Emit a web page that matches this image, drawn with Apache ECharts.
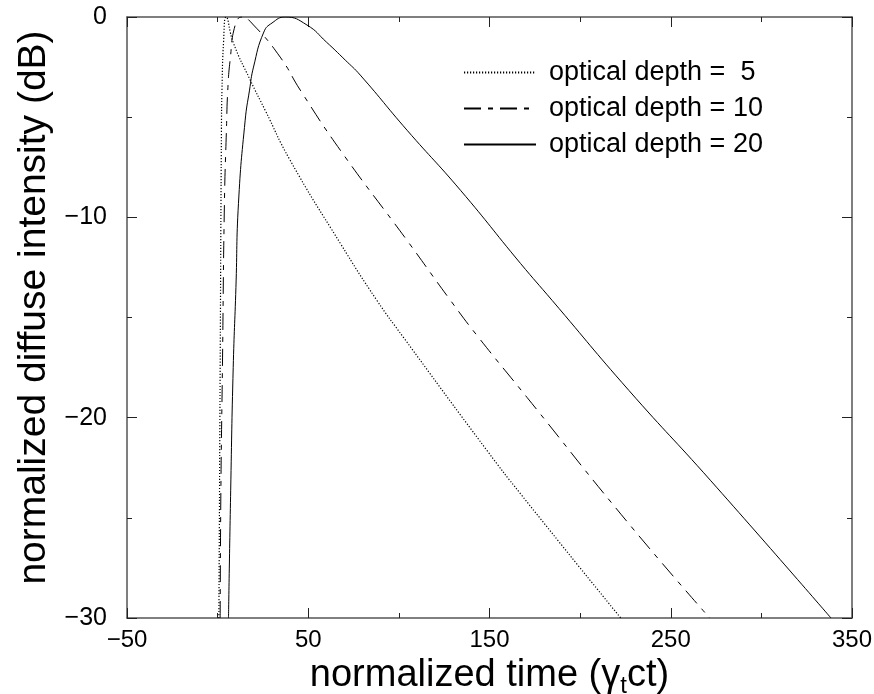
<!DOCTYPE html>
<html lang="en">
<head>
    <meta charset="UTF-8">
    <script src="https://cdn.jsdelivr.net/npm/echarts@6/dist/echarts.min.js"></script>
    <style>
        html, body { margin: 0; padding: 0; background: #fff; }
    </style>
</head>
<body>
    <div id="main" style="width: 874px; height: 694px;"></div>

    <script>
        // normalized time vs intensity (dB)
        var t5  = [0.7, 1.4, 2.1, 2.4, 3.3, 4.7, 8.7, 18, 26.2, 40, 67.7, 87.9, 102.6, 148.7, 167.1, 222.4];
        var db5 = [-30, -17.5, -5.65, -3.65, -1.2, 0, -1.3, -3.15, -4.65, -7.15, -11.3, -14.15, -16, -21.65, -23.8, -30];

        var t10  = [1.4, 1.8, 2.65, 3.75, 4.9, 5.6, 6.9, 9.7, 13.4, 19.8, 34.5, 45.6, 67.7, 104.5, 128.5, 144, 170.8, 226, 271.5];
        var db10 = [-30, -23.6, -17.5, -9.3, -5.5, -3.65, -2.15, -0.4, 0, -0.4, -2.0, -3.65, -6.65, -11.15, -14.15, -16, -19, -25.2, -30];

        var t20  = [6.0, 7.2, 8.6, 10.1, 11.5, 15.2, 17.6, 19.8, 25.5, 30, 37.3, 49.3, 60, 70.4, 78.7, 104.5, 134, 167.1, 184.6, 227, 272.1, 338.4];
        var db20 = [-30, -23.65, -17.5, -13.5, -9.3, -5.15, -3.65, -2.5, -0.75, -0.3, 0, -0.4, -1.25, -2.15, -2.9, -5.65, -8.65, -12.3, -14.15, -18.65, -23.15, -30];

        var names = ['optical depth =  5', 'optical depth = 10', 'optical depth = 20'];

        function pairs(xs, ys) {
            return xs.map(function (x, i) { return [x, ys[i]]; });
        }

        var frame = '#555';
        var font = '"Liberation Sans", Arial, sans-serif';
        var minus = function (v) { return String(v).replace('-', '\u2212'); };

        function xAx(pos, show) {
            return {
                type: 'value', position: pos, min: -50, max: 350, interval: 100,
                axisLine: { show: true, onZero: false, lineStyle: { color: frame, width: 1.5 } },
                axisTick: { show: true, inside: true, length: 10, lineStyle: { color: '#222' } },
                minorTick: { show: true, splitNumber: 2, length: 5, lineStyle: { color: '#222' } },
                splitLine: { show: false },
                axisLabel: { show: show, margin: 10, color: '#000', fontSize: 24, fontFamily: font, formatter: minus }
            };
        }

        function yAx(pos, show) {
            return {
                type: 'value', position: pos, min: -30, max: 0, interval: 10,
                axisLine: { show: true, onZero: false, lineStyle: { color: frame, width: 1.5 } },
                axisTick: { show: true, inside: true, length: 10, lineStyle: { color: '#222' } },
                minorTick: { show: true, splitNumber: 2, length: 5, lineStyle: { color: '#222' } },
                splitLine: { show: false },
                axisLabel: { show: show, margin: 20, color: '#000', fontSize: 25, fontFamily: font, formatter: minus }
            };
        }

        var xBottom = xAx('bottom', true);
        xBottom.name = 'normalized time (\u03b3{sub|t}ct)';
        xBottom.nameLocation = 'middle';
        xBottom.nameGap = 27;
        xBottom.nameTextStyle = {
            color: '#000', fontSize: 38, fontFamily: font,
            rich: {
                sub: { fontSize: 24, color: '#000', fontFamily: font, padding: [20, 0, 0, 0] }
            }
        };

        var yLeft = yAx('left', true);
        yLeft.name = 'normalized diffuse intensity (dB)';
        yLeft.nameLocation = 'middle';
        yLeft.nameGap = 62;
        yLeft.nameTextStyle = { color: '#000', fontSize: 39, fontFamily: font, padding: [0, 0, 0, 20] };

        var styles = [
            { type: [1.2, 1.8], width: 1.2 },
            { type: [17, 7, 5, 7], width: 1 },
            { type: 'solid', width: 1 }
        ];
        var data = [pairs(t5, db5), pairs(t10, db10), pairs(t20, db20)];

        var chart = echarts.init(document.getElementById('main'), null, { renderer: 'canvas' });

        chart.setOption({
            animation: false,
            backgroundColor: '#fff',
            grid: { left: 127, right: 22, top: 17, bottom: 76, outerBoundsMode: 'none', containLabel: false },
            xAxis: [xBottom, xAx('top', false)],
            yAxis: [yLeft, yAx('right', false)],
            legend: {
                orient: 'vertical',
                left: 458,
                top: 52,
                itemWidth: 72,
                itemHeight: 14,
                itemGap: 5,
                itemStyle: { opacity: 0 },
                textStyle: { color: '#000', fontSize: 27, lineHeight: 31, fontFamily: font, padding: [0, 0, 0, 8] },
                data: names
            },
            series: data.map(function (d, i) {
                return {
                    name: names[i],
                    type: 'line',
                    xAxisIndex: 0,
                    yAxisIndex: 0,
                    data: d,
                    symbol: 'none',
                    smooth: 0.5,
                    color: '#000',
                    lineStyle: { color: '#000', width: styles[i].width, type: styles[i].type }
                };
            })
        });
    </script>
</body>
</html>
